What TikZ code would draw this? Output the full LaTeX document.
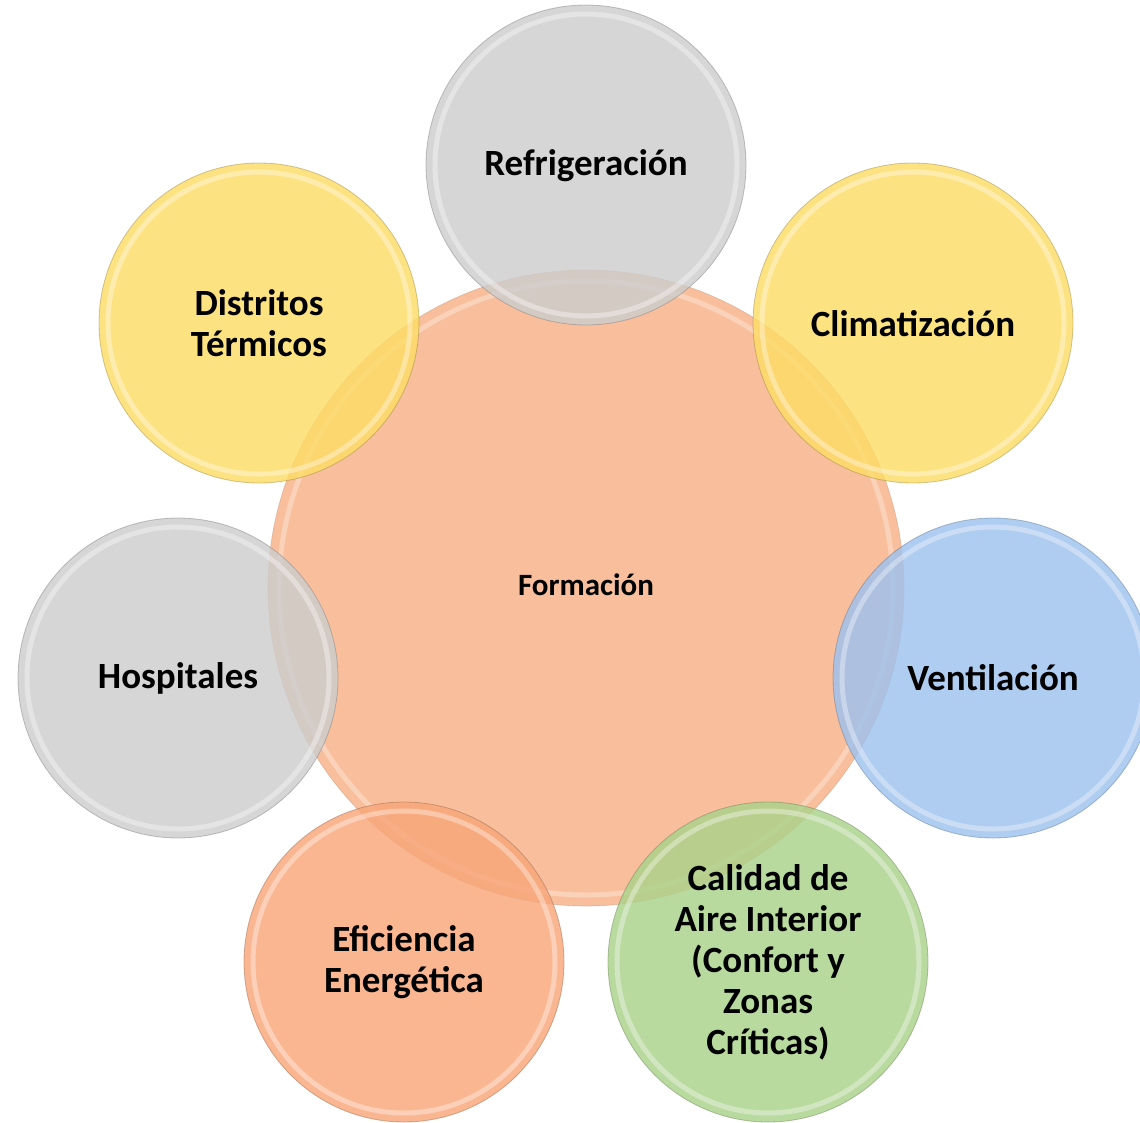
\documentclass[tikz,border=0pt]{standalone}
\usepackage{fontspec}
\setmainfont{Carlito}
\begin{document}
\begin{tikzpicture}[x=1pt,y=-1pt,
  bub/.style={circle, minimum size=#1, inner sep=0pt, align=center, font=\bfseries\fontsize{37}{41}\selectfont}
]
\useasboundingbox (0,0) rectangle (1140,1123);
\definecolor{cgray}{HTML}{CDCDCD}
\definecolor{cyel}{HTML}{FDDC66}
\definecolor{cblue}{HTML}{9DC1EE}
\definecolor{cgreen}{HTML}{AAD28A}
\definecolor{corange}{HTML}{F8A679}
\definecolor{ccent}{HTML}{F9BF9D}
% center
\fill[ccent] (586,588) circle (318);
\draw[white, line width=5pt, opacity=0.3] (586,588) circle (307);
\draw[ccent!70!black, line width=0.6pt, opacity=0.4] (586,588) circle (318);
\node[font=\bfseries\fontsize{31}{36}\selectfont] (form) at (586,585) {Formación};
% satellites
\foreach \cx/\cy/\col/\nm in {586/165/cgray/refr, 913/323/cyel/clim, 993/678/cblue/vent, 768/962/cgreen/cal, 404/962/corange/efi, 178/678/cgray/hosp, 259/323/cyel/dist}{
  \fill[\col, fill opacity=0.82] (\cx,\cy) circle (160);
  \draw[white, line width=5pt, draw opacity=0.35] (\cx,\cy) circle (151);
  \draw[\col!60!black, line width=0.8pt, draw opacity=0.45] (\cx,\cy) circle (160);
}
\node[bub=300pt] (refr) at (586,166) {Refrigeración};
\node[bub=300pt] (clim) at (913,324) {Climatización};
\node[bub=300pt] (vent) at (993,678) {Ventilación};
\node[bub=300pt] (cal) at (768,962) {Calidad de\\Aire Interior\\(Confort y\\Zonas\\Críticas)};
\node[bub=300pt] (efi) at (404,962) {Eficiencia\\Energética};
\node[bub=300pt] (hosp) at (178,678) {Hospitales};
\node[bub=300pt] (dist) at (259,323) {Distritos\\Térmicos};
\end{tikzpicture}
\end{document}
